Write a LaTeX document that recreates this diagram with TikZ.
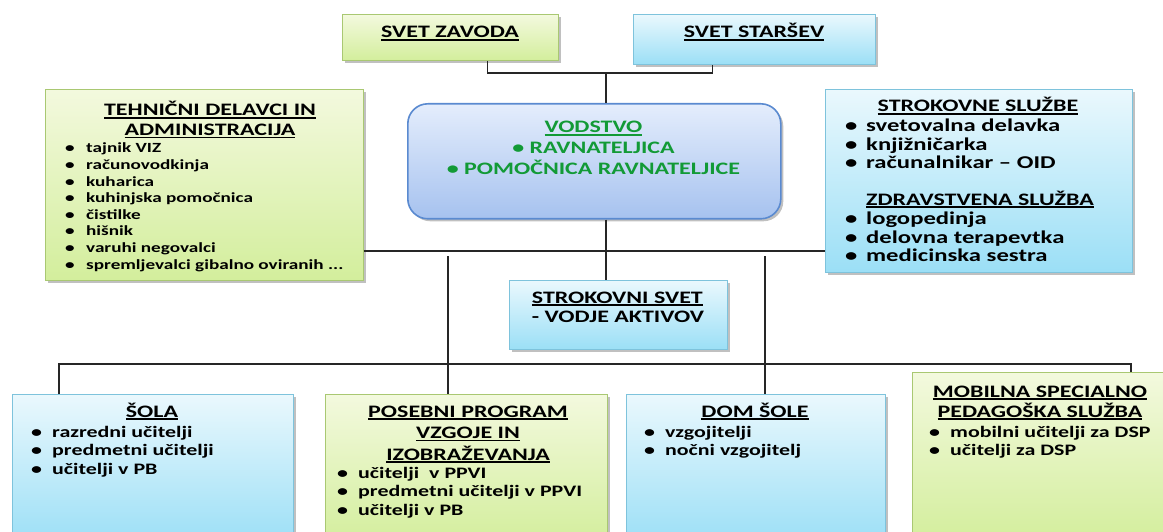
\documentclass[tikz,border=0pt]{standalone}
\usepackage{fontspec}
\setmainfont{Carlito}[FakeStretch=1.37]
\usetikzlibrary{shadows}
\definecolor{gtop}{HTML}{F3F9DE}
\definecolor{gbot}{HTML}{D3EE9C}
\definecolor{gborder}{HTML}{A9C872}
\definecolor{btop}{HTML}{EAF8FD}
\definecolor{bbot}{HTML}{9BDFF6}
\definecolor{bborder}{HTML}{7EC3DC}
\definecolor{vtop}{HTML}{E4EDFC}
\definecolor{vbot}{HTML}{A6C2EF}
\definecolor{vborder}{HTML}{5A8AD0}
\definecolor{vgreen}{HTML}{129A36}
\newcommand{\ulin}[1]{\setbox0\hbox{#1}\rlap{\rule[-2.6pt]{\wd0}{1.4pt}}\box0}
\newcommand{\itm}[1]{\makebox[17pt][l]{\hspace*{-4pt}\textbullet}#1}
\tikzset{
  shad/.style={drop shadow={shadow xshift=2.5pt,shadow yshift=-2.5pt,opacity=0.35,fill=black!70}},
  gbox/.style={shad,draw=gborder,line width=0.9pt,top color=gtop,bottom color=gbot,inner sep=0pt,anchor=north west},
  bbox/.style={shad,draw=bborder,line width=0.9pt,top color=btop,bottom color=bbot,inner sep=0pt,anchor=north west},
  vbox/.style={shad,draw=vborder,line width=1.6pt,top color=vtop,bottom color=vbot,inner sep=0pt,anchor=north west,rounded corners=20pt},
  conn/.style={draw=black!85,line width=1.6pt},
  ttl/.style={inner sep=0pt,anchor=base,font=\bfseries\fontsize{17.5}{19.5}\selectfont},
  ttlw/.style={ttl,font=\bfseries\fontsize{17.5}{21.5}\selectfont},
  vtxt/.style={inner sep=0pt,anchor=base,text=vgreen,font=\bfseries\fontsize{17.5}{21}\selectfont},
  lst/.style={inner sep=0pt,anchor=base west,font=\bfseries\fontsize{16}{18.5}\selectfont},
  lstb/.style={inner sep=0pt,anchor=base west,font=\bfseries\fontsize{18}{18.5}\selectfont},
  lsts/.style={inner sep=0pt,anchor=base west,font=\bfseries\fontsize{14}{16.6}\selectfont},
}
\begin{document}
\begin{tikzpicture}[x=1pt,y=-1pt]
\useasboundingbox (0,0) rectangle (1163,532);
\clip (0,0) rectangle (1163,532);
\fill[white] (0,0) rectangle (1163,532);
% coordinates for connectors
\coordinate (j1) at (606,73);
\coordinate (h1) at (0,251);
\coordinate (cx) at (606,0);
\coordinate (v1) at (448,256);
\coordinate (v2) at (765,256);
\coordinate (b1) at (59,364);
\coordinate (b2) at (1131,364);
% boxes
\node[gbox,minimum width=216pt,minimum height=46pt] (zavod) at (342,14) {};
\node[bbox,minimum width=242pt,minimum height=50pt] (starsev) at (633,14) {};
\node[vbox,minimum width=373pt,minimum height=115pt] (vod) at (407,103) {};
\node[gbox,minimum width=318pt,minimum height=191pt] (tech) at (45,89) {};
\node[bbox,minimum width=307pt,minimum height=183pt] (strok) at (825,89) {};
\node[bbox,minimum width=218pt,minimum height=69pt] (svet) at (509,280) {};
\node[bbox,minimum width=281pt,minimum height=150pt] (sola) at (12,394) {};
\node[gbox,minimum width=282pt,minimum height=150pt] (ppvi) at (325,394) {};
\node[bbox,minimum width=259pt,minimum height=150pt] (dom) at (626,394) {};
\node[gbox,minimum width=256pt,minimum height=170pt] (mobil) at (912,372) {};
% connectors
\draw[conn] ([xshift=37pt]zavod.south) |- (j1) -| ([xshift=-42pt]starsev.south);
\draw[conn] (j1) -- (j1 |- vod.north);
\draw[conn] (tech.east |- h1) -- (strok.west |- h1);
\draw[conn] (cx |- vod.south) -- (cx |- svet.north);
\draw[conn] (v1) -- (v1 |- ppvi.north);
\draw[conn] (v2) -- (v2 |- dom.north);
\draw[conn] (b1 |- sola.north) -- (b1) -- (b2) -- (b2 |- mobil.north);
% texts
\node[ttl] (zavodT) at (450,38) {\ulin{SVET ZAVODA}};
\node[ttl] (starsevT) at (754,38) {\ulin{SVET STARŠEV}};
\node[vtxt] (vodT) at (593.5,133) {\begin{tabular}[t]{@{}c@{}}\ulin{VODSTVO}\\\textbullet\ RAVNATELJICA\\\textbullet\ POMOČNICA RAVNATELJICE\end{tabular}};
\node[ttl] (techT) at (210,116) {\begin{tabular}[t]{@{}c@{}}\ulin{TEHNIČNI DELAVCI IN}\\\ulin{ADMINISTRACIJA}\end{tabular}};
\node[lsts] (techL) at (69,153) {\begin{tabular}[t]{@{}l@{}}\itm{tajnik VIZ}\\\itm{računovodkinja}\\\itm{kuharica}\\\itm{kuhinjska pomočnica}\\\itm{čistilke}\\\itm{hišnik}\\\itm{varuhi negovalci}\\\itm{spremljevalci gibalno oviranih ...}\end{tabular}};
\node[ttl] (strokT1) at (978,112) {\ulin{STROKOVNE SLUŽBE}};
\node[lstb] (strokL1) at (849,132) {\begin{tabular}[t]{@{}l@{}}\itm{svetovalna delavka}\\\itm{knjižničarka}\\\itm{računalnikar – OID}\end{tabular}};
\node[ttl] (strokT2) at (980,205) {\ulin{ZDRAVSTVENA SLUŽBA}};
\node[lstb] (strokL2) at (849,225) {\begin{tabular}[t]{@{}l@{}}\itm{logopedinja}\\\itm{delovna terapevtka}\\\itm{medicinska sestra}\end{tabular}};
\node[ttl] (svetT) at (618,303) {\begin{tabular}[t]{@{}l@{}}\ulin{STROKOVNI SVET}\\- VODJE AKTIVOV\end{tabular}};
\node[ttl] (solaT) at (152,417) {\ulin{ŠOLA}};
\node[lst] (solaL) at (35,437) {\begin{tabular}[t]{@{}l@{}}\itm{razredni učitelji}\\\itm{predmetni učitelji}\\\itm{učitelji v PB}\end{tabular}};
\node[ttlw] (ppviT) at (468,417) {\begin{tabular}[t]{@{}c@{}}\ulin{POSEBNI\ PROGRAM}\\\ulin{VZGOJE IN}\\\ulin{IZOBRAŽEVANJA}\end{tabular}};
\node[lst] (ppviL) at (341,478) {\begin{tabular}[t]{@{}l@{}}\itm{učitelji\ \ v PPVI}\\\itm{predmetni učitelji v PPVI}\\\itm{učitelji v PB}\end{tabular}};
\node[ttl] (domT) at (755,417) {\ulin{DOM ŠOLE}};
\node[lst] (domL) at (648,437) {\begin{tabular}[t]{@{}l@{}}\itm{vzgojitelji}\\\itm{nočni vzgojitelj}\end{tabular}};
\node[ttl] (mobilT) at (1040,397) {\begin{tabular}[t]{@{}c@{}}\ulin{MOBILNA SPECIALNO}\\\ulin{PEDAGOŠKA SLUŽBA}\end{tabular}};
\node[lst] (mobilL) at (933,437) {\begin{tabular}[t]{@{}l@{}}\itm{mobilni učitelji za DSP}\\\itm{učitelji za DSP}\end{tabular}};
\end{tikzpicture}
\end{document}
